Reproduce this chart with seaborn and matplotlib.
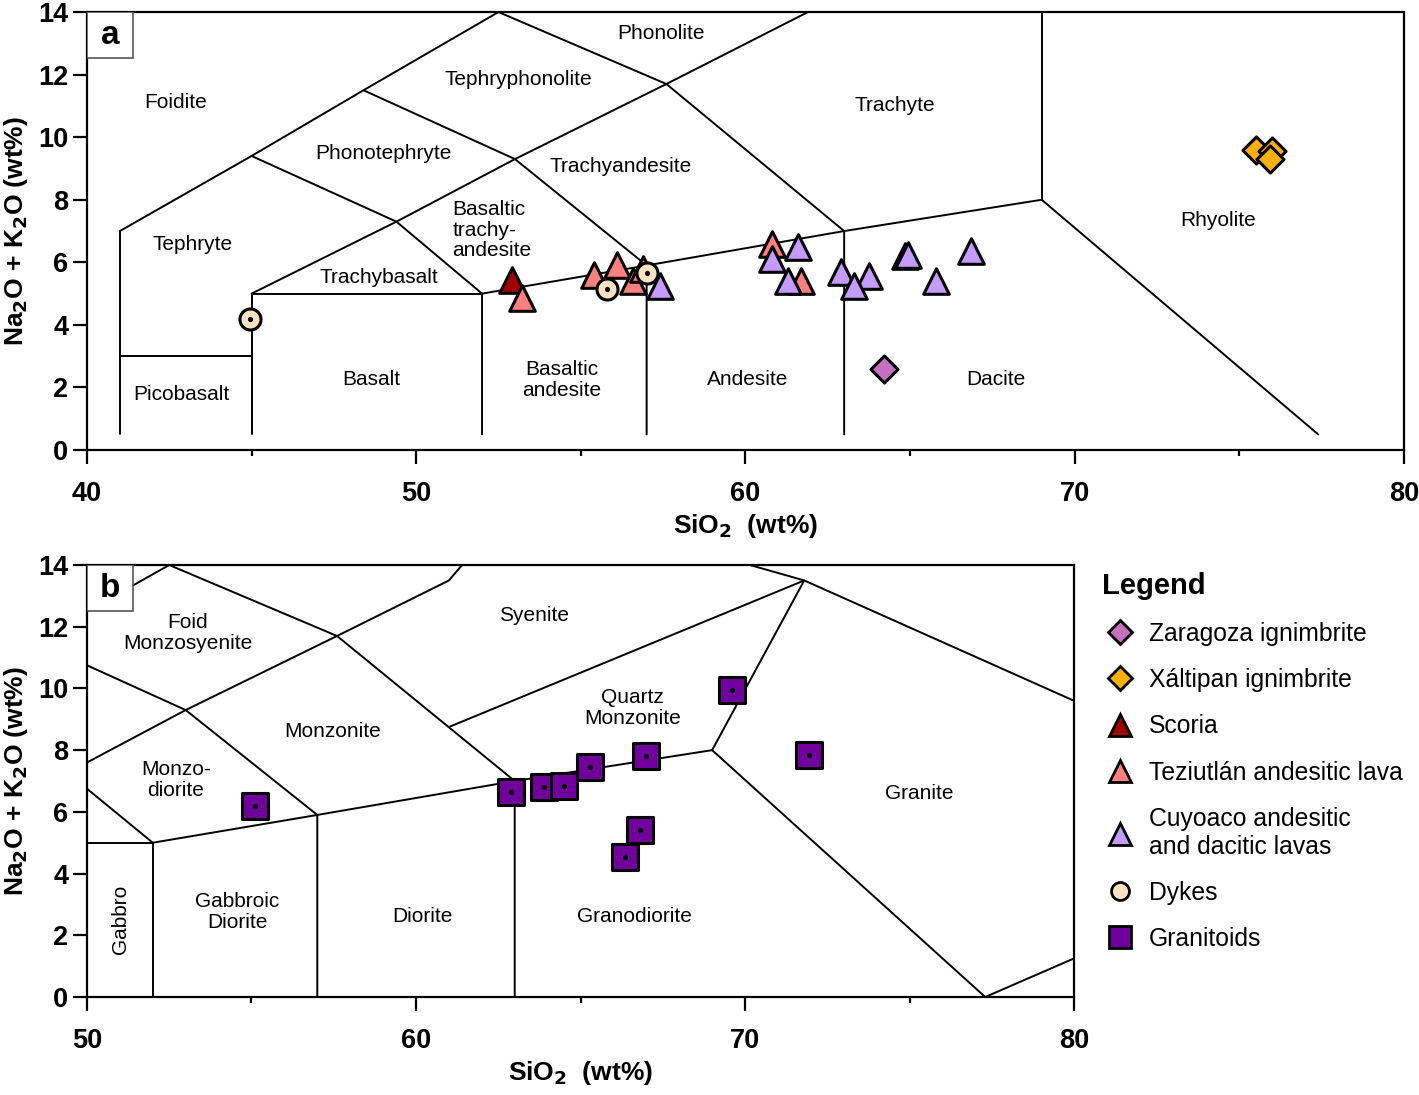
import matplotlib
matplotlib.use("Agg")
import matplotlib.pyplot as plt
from matplotlib.lines import Line2D
from matplotlib.patches import Rectangle
import seaborn as sns

# --- sample data (SiO2, Na2O+K2O) ---
zaragoza_x = [64.2]
zaragoza_y = [2.6]
xaltipan_x = [75.5, 76.0, 75.95]
xaltipan_y = [9.6, 9.55, 9.3]
scoria_x = [52.9]
scoria_y = [5.45]
teziutlan_x = [53.2, 55.4, 56.1, 56.6, 56.9, 60.8, 61.7]
teziutlan_y = [4.85, 5.6, 5.9, 5.4, 5.8, 6.6, 5.4]
cuyoaco_x = [57.4, 61.6, 60.8, 61.3, 62.9, 63.75, 63.3, 64.85, 64.95, 65.8, 66.85]
cuyoaco_y = [5.25, 6.5, 6.1, 5.4, 5.7, 5.55, 5.25, 6.2, 6.25, 5.4, 6.35]
dykes_x = [44.95, 55.8, 57.0]
dykes_y = [4.2, 5.15, 5.65]
granitoid_x = [55.1, 62.9, 63.9, 64.5, 65.3, 67.0, 69.6, 71.95, 66.8, 66.35]
granitoid_y = [6.2, 6.65, 6.8, 6.85, 7.45, 7.8, 9.95, 7.85, 5.4, 4.55]

# --- classification boundaries ---
tas_volcanic_lines = [
    [(41, 0.5), (41, 7)],
    [(41, 3), (45, 3)],
    [(41, 7), (45, 9.4), (48.4, 11.5), (52.5, 14)],
    [(45, 0.5), (45, 5), (52, 5)],
    [(45, 5), (49.4, 7.3), (53, 9.3), (57.6, 11.7), (61.9, 14)],
    [(45, 9.4), (49.4, 7.3), (52, 5)],
    [(52, 0.5), (52, 5), (57, 5.9), (63, 7), (69, 8), (77.4, 0.5)],
    [(57, 0.5), (57, 5.9), (53, 9.3), (48.4, 11.5)],
    [(63, 0.5), (63, 7), (57.6, 11.7), (52.5, 14)],
    [(69, 8), (69, 14)],
]
tas_volcanic_labels = [
    ("Foidite", 42.7, 11.1), ("Phonolite", 57.43, 13.3),
    ("Tephryphonolite", 53.1, 11.85), ("Phonotephryte", 49.0, 9.49),
    ("Trachyandesite", 56.2, 9.07), ("Trachyte", 64.55, 11.0),
    ("Rhyolite", 74.35, 7.35), ("Tephryte", 43.2, 6.58),
    ("Trachybasalt", 48.87, 5.5), ("Picobasalt", 42.88, 1.76),
    ("Basalt", 48.65, 2.27), ("Basaltic\nandesite", 54.42, 2.24),
    ("Andesite", 60.07, 2.27), ("Dacite", 67.6, 2.27),
]
tas_plutonic_lines = [
    [(50, 5), (52, 5), (52, 0)],
    [(50, 6.75), (52, 5), (57, 5.9), (63, 7), (69, 8), (77.3, 0), (80, 1.25)],
    [(50, 10.75), (53, 9.3), (57, 5.9), (57, 0)],
    [(50, 7.6), (53, 9.3), (57.6, 11.7), (61, 13.5), (61.4, 14)],
    [(50, 12.5), (52.5, 14), (57.6, 11.7), (63, 7), (63, 0)],
    [(61, 8.75), (71.8, 13.5), (80, 9.6)],
    [(70.15, 14), (71.8, 13.5), (69, 8)],
]
tas_plutonic_labels = [
    ("Foid\nMonzosyenite", 53.07, 11.8), ("Syenite", 63.6, 12.38),
    ("Quartz\nMonzonite", 66.57, 9.37), ("Monzonite", 57.48, 8.62),
    ("Monzo-\ndiorite", 52.7, 7.03), ("Granite", 75.3, 6.61),
    ("Gabbroic\nDiorite", 54.56, 2.75), ("Diorite", 60.2, 2.62),
    ("Granodiorite", 66.63, 2.62),
]

sns.set_style("ticks")
plt.rcParams["font.family"] = ["Liberation Sans", "DejaVu Sans"]
for key in ["text.color", "axes.labelcolor", "xtick.color", "ytick.color"]:
    plt.rcParams[key] = "black"

LABEL_FS = 15

styles = {
    "Zaragoza ignimbrite": dict(marker="D", color="#C470C0", s=190),
    "Xáltipan ignimbrite": dict(marker="D", color="#FFB000", s=190),
    "Scoria": dict(marker="^", color="#A00000", s=340),
    "Teziutlán andesitic lava": dict(marker="^", color="#FF8080", s=340),
    "Cuyoaco andesitic\nand dacitic lavas": dict(marker="^", color="#C49CFF", s=340),
    "Dykes": dict(marker="o", color="#FFE2C4", s=230),
    "Granitoids": dict(marker="s", color="#70009C", s=330),
}


def draw_points(ax, xs, ys, key, dot=False):
    st = styles[key]
    sns.scatterplot(x=xs, y=ys, ax=ax, marker=st["marker"], color=st["color"],
                    s=st["s"], edgecolor="black", linewidth=2.2, zorder=5)
    if dot:
        sns.scatterplot(x=xs, y=ys, ax=ax, marker="o", color="black",
                        s=14, linewidth=0, zorder=6)


def style_axes(ax, xlim, xmajor, xminor, letter, box_w, box_h):
    ax.set_xlim(*xlim)
    ax.set_ylim(0, 14)
    ax.set_xticks(xmajor)
    ax.set_xticks(xminor, minor=True)
    ax.set_yticks(range(0, 15, 2))
    ax.tick_params(axis="both", which="major", length=10, width=1.6,
                   labelsize=19.5, direction="out", colors="black")
    ax.tick_params(axis="x", which="minor", length=4, width=1.6,
                   direction="out", colors="black")
    ax.tick_params(axis="x", which="major", pad=12)
    for lab in ax.get_xticklabels() + ax.get_yticklabels():
        lab.set_fontweight("bold")
    for sp in ax.spines.values():
        sp.set_linewidth(1.6)
        sp.set_color("black")
    ax.set_xlabel("SiO$_\\mathbf{2}$  (wt%)", fontsize=19, fontweight="bold",
                  labelpad=4)
    ax.set_ylabel("Na$_\\mathbf{2}$O + K$_\\mathbf{2}$O (wt%)", fontsize=19,
                  fontweight="bold", labelpad=6)
    ax.add_patch(Rectangle((0, 1 - box_h), box_w, box_h, transform=ax.transAxes,
                           facecolor="white", edgecolor="#555555", lw=1.2,
                           zorder=9))
    ax.text(box_w / 2, 1 - box_h / 2, letter, transform=ax.transAxes,
            ha="center", va="center", fontsize=24, fontweight="bold", zorder=10)


fig = plt.figure(figsize=(14.19, 10.95), dpi=100)
ax_a = fig.add_axes([0.0613, 0.589, 0.928, 0.40])
ax_b = fig.add_axes([0.0613, 0.0895, 0.6956, 0.3945])

# panel a: volcanic TAS
for seg in tas_volcanic_lines:
    xs, ys = zip(*seg)
    ax_a.plot(xs, ys, color="black", lw=1.4, zorder=1)
for text, x, y in tas_volcanic_labels:
    ax_a.text(x, y, text, ha="center", va="center", fontsize=LABEL_FS,
              linespacing=1.1)
ax_a.text(51.1, 7.03, "Basaltic\ntrachy-\nandesite", ha="left", va="center",
          fontsize=LABEL_FS, linespacing=1.1)

draw_points(ax_a, zaragoza_x, zaragoza_y, "Zaragoza ignimbrite")
draw_points(ax_a, xaltipan_x, xaltipan_y, "Xáltipan ignimbrite")
draw_points(ax_a, scoria_x, scoria_y, "Scoria")
draw_points(ax_a, teziutlan_x, teziutlan_y, "Teziutlán andesitic lava")
draw_points(ax_a, dykes_x, dykes_y, "Dykes", dot=True)
draw_points(ax_a, cuyoaco_x, cuyoaco_y, "Cuyoaco andesitic\nand dacitic lavas")
style_axes(ax_a, (40, 80), [40, 50, 60, 70, 80], [45, 55, 65, 75], "a",
           46 / 1317, 46 / 438)

# panel b: plutonic TAS
for seg in tas_plutonic_lines:
    xs, ys = zip(*seg)
    ax_b.plot(xs, ys, color="black", lw=1.4, zorder=1)
for text, x, y in tas_plutonic_labels:
    ax_b.text(x, y, text, ha="center", va="center", fontsize=LABEL_FS,
              linespacing=1.1)
ax_b.text(51.03, 2.5, "Gabbro", ha="center", va="center", fontsize=LABEL_FS,
          rotation=90)
draw_points(ax_b, granitoid_x, granitoid_y, "Granitoids", dot=True)
style_axes(ax_b, (50, 80), [50, 60, 70, 80], [55, 65, 75], "b",
           46 / 987, 46 / 432)

# legend
handles = []
for label, st in styles.items():
    ms = st["s"] ** 0.5
    handles.append(Line2D([], [], linestyle="none", marker=st["marker"],
                          markersize=ms * 0.85, markerfacecolor=st["color"],
                          markeredgecolor="black", markeredgewidth=2.0,
                          label=label))
leg = fig.legend(handles=handles, loc="upper left",
                 bbox_to_anchor=(0.7766, 0.478), frameon=False, title="Legend",
                 alignment="left", fontsize=17.8, labelspacing=0.9,
                 borderpad=0, borderaxespad=0, handlelength=1.46,
                 handletextpad=0.45,
                 title_fontproperties={"weight": "bold", "size": 21})

fig.savefig("out.png", dpi=100)
